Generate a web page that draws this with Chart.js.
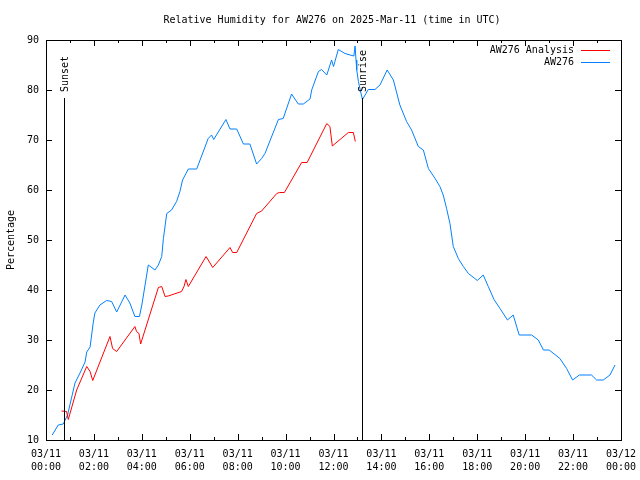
<!DOCTYPE html>
<html>
<head>
<meta charset="utf-8">
<script src="https://cdn.jsdelivr.net/npm/chart.js@4.4.1/dist/chart.umd.min.js"></script>
<style>
html,body{margin:0;padding:0;background:#fff;}
#wrap{width:640px;height:480px;}
</style>
</head>
<body>
<div id="wrap"><canvas id="c" width="640" height="480"></canvas></div>
<script>
// ---- data (time in hours UTC since 2025-03-11 00:00) ----
const obsHours = [0.26,0.51,0.72,0.9,1.21,1.42,1.63,1.7,1.84,1.97,2.04,2.25,2.53,2.74,2.95,3.3,3.5,3.71,3.9,4.0,4.27,4.55,4.69,4.83,4.9,5.04,5.24,5.45,5.59,5.7,5.94,6.29,6.77,6.91,7.0,7.51,7.68,7.96,8.24,8.51,8.79,9.0,9.14,9.7,9.9,10.25,10.53,10.74,11.02,11.09,11.37,11.5,11.72,11.92,12.0,12.06,12.2,12.48,12.69,12.85,12.9,12.94,12.97,13.04,13.13,13.21,13.45,13.73,13.94,14.24,14.5,14.77,15.05,15.26,15.54,15.75,15.96,16.24,16.44,16.58,16.72,16.86,17.0,17.21,17.42,17.63,17.9,18.0,18.25,18.46,18.7,18.95,19.26,19.5,19.75,20.27,20.55,20.76,21.0,21.45,21.73,21.98,22.26,22.77,22.98,23.26,23.54,23.75];
const obsValues = [11,13,13.2,15,21.4,23.4,25.6,27.6,28.6,33.4,35.4,37,37.9,37.7,35.6,39,37.4,34.7,34.7,37,45,44,45,46.7,50.3,55.3,56,57.7,59.7,62,64.2,64.2,70.3,71,70.1,74.1,72.2,72.2,69.2,69.2,65.2,66.3,67.3,74.1,74.3,79.2,77.2,77.2,78.2,80,83.7,84.1,83,86,84.7,85.7,88.1,87.3,87,86.8,88.8,86,84,81.7,79.7,78.1,80.1,80.1,81,84,82,77,73.7,72,68.7,68,64.3,62.3,60.7,59,56.3,53.3,48.7,46.3,44.7,43.3,42.3,41.9,43,40.7,38.1,36.3,34,35,31,31,30,28,28,26.3,24.3,22,23,23,22,22,23,25];
const anaHours = [0.65,0.86,0.93,1.28,1.7,1.84,1.95,2.67,2.78,2.95,3.71,3.78,3.88,3.95,4.69,4.83,4.97,5.1,5.66,5.76,5.84,5.94,6.68,6.77,6.96,7.68,7.79,7.96,8.79,9.0,9.63,9.74,9.95,10.67,10.9,11.72,11.85,11.95,12.62,12.83,12.91];
const anaValues = [15.8,15.7,14.1,20,24.7,23.7,21.9,30.7,28.3,27.7,32.7,31.7,31.3,29.2,40.5,40.7,38.7,38.8,39.7,40.7,42.1,40.7,46.7,46,44.5,48.5,47.5,47.5,55.3,55.8,59.3,59.5,59.5,65.5,65.5,73.3,72.7,68.8,71.5,71.5,69.7];
const seriesNames = ["AW276 Analysis","AW276"];
const xTickDates = ["03/11","03/11","03/11","03/11","03/11","03/11","03/11","03/11","03/11","03/11","03/11","03/11","03/12"];
const xTickTimes = ["00:00","02:00","04:00","06:00","08:00","10:00","12:00","14:00","16:00","18:00","20:00","22:00","00:00"];
const yTicks = [10,20,30,40,50,60,70,80,90];
const sunEvents = [{label:"Sunset", hour:0.75},{label:"Sunrise", hour:13.18}];
const titleText = "Relative Humidity for AW276 on 2025-Mar-11 (time in UTC)";
const yTitle = "Percentage";

const FONT = "10px 'DejaVu Sans Mono', monospace";
Chart.defaults.font.family = "'DejaVu Sans Mono', monospace";
Chart.defaults.font.size = 10;
Chart.defaults.color = '#000';

const colors = ['#ff0000', '#0080ff'];

const decor = {
  id: 'decor',
  afterDraw(chart) {
    const ctx = chart.ctx, a = chart.chartArea;
    const xs = chart.scales.x, ys = chart.scales.y;
    ctx.save();
    ctx.strokeStyle = '#000';
    ctx.lineWidth = 1;
    // frame
    ctx.strokeRect(Math.round(a.left)+0.5, Math.round(a.top)+0.5, Math.round(a.right-a.left), Math.round(a.bottom-a.top));
    // x ticks (inward, top & bottom)
    ctx.beginPath();
    for (let h = 0; h <= 24; h++) {
      const px = Math.round(xs.getPixelForValue(h)) + 0.5;
      const len = (h % 2 === 0) ? 6 : 3;
      ctx.moveTo(px, a.bottom); ctx.lineTo(px, a.bottom - len);
      ctx.moveTo(px, a.top); ctx.lineTo(px, a.top + len);
    }
    // y ticks (inward, left & right)
    yTicks.forEach(v => {
      const py = Math.round(ys.getPixelForValue(v)) + 0.5;
      ctx.moveTo(a.left, py); ctx.lineTo(a.left + 6, py);
      ctx.moveTo(a.right, py); ctx.lineTo(a.right - 6, py);
    });
    ctx.stroke();
    // sun events
    ctx.font = FONT;
    ctx.fillStyle = '#000';
    sunEvents.forEach(ev => {
      const px = Math.round(xs.getPixelForValue(ev.hour)) + 0.5;
      ctx.beginPath();
      ctx.moveTo(px, a.bottom); ctx.lineTo(px, 98);
      ctx.stroke();
      ctx.save();
      ctx.translate(px + 1, 92);
      ctx.rotate(-Math.PI/2);
      ctx.textAlign = 'left';
      ctx.textBaseline = 'middle';
      ctx.fillText(ev.label, 0, 0);
      ctx.restore();
    });
    // legend
    ctx.textAlign = 'right';
    ctx.textBaseline = 'middle';
    seriesNames.forEach((n, i) => {
      const y = 50 + i * 12;
      ctx.fillStyle = '#000';
      ctx.fillText(n, 574, y);
      ctx.strokeStyle = colors[i];
      ctx.beginPath();
      ctx.moveTo(581, y + 0.5); ctx.lineTo(610, y + 0.5);
      ctx.stroke();
    });
    // title
    ctx.fillStyle = '#000';
    ctx.textAlign = 'center';
    ctx.fillText(titleText, 332, 20);
    // y title
    ctx.save();
    ctx.translate(11, 240);
    ctx.rotate(-Math.PI/2);
    ctx.textAlign = 'center';
    ctx.textBaseline = 'middle';
    ctx.fillText(yTitle, 0, 0);
    ctx.restore();
    ctx.restore();
  }
};

new Chart(document.getElementById('c'), {
  type: 'line',
  data: {
    datasets: [
      { label: seriesNames[0], data: anaHours.map((h, i) => ({x: h, y: anaValues[i]})), borderColor: colors[0], borderWidth: 1, pointRadius: 0, tension: 0, fill: false },
      { label: seriesNames[1], data: obsHours.map((h, i) => ({x: h, y: obsValues[i]})), borderColor: colors[1], borderWidth: 1, pointRadius: 0, tension: 0, fill: false }
    ]
  },
  options: {
    responsive: false,
    animation: false,
    layout: { padding: { top: 40, right: 19, left: 0, bottom: 0 } },
    plugins: { legend: { display: false }, title: { display: false }, tooltip: { enabled: false } },
    scales: {
      x: {
        type: 'linear', min: 0, max: 24,
        grid: { display: false, drawTicks: false, tickLength: 0 }, border: { display: false },
        afterFit(s) { s.height = 40; s.paddingLeft = 0; s.paddingRight = 0; },
        afterBuildTicks(s) { s.ticks = xTickTimes.map((t, i) => ({value: i * 2})); },
        ticks: {
          autoSkip: false, maxRotation: 0, padding: 8, color: '#000',
          font: { size: 10, lineHeight: 1.3 },
          callback(v) { const i = Math.round(v / 2); return [xTickDates[i], xTickTimes[i]]; }
        }
      },
      y: {
        type: 'linear', min: 10, max: 90,
        grid: { display: false, drawTicks: false, tickLength: 0 }, border: { display: false },
        afterFit(s) { s.width = 46; s.paddingTop = 0; s.paddingBottom = 0; },
        afterBuildTicks(s) { s.ticks = yTicks.map(v => ({value: v})); },
        ticks: { padding: 7, color: '#000' }
      }
    }
  },
  plugins: [decor]
});
</script>
</body>
</html>
